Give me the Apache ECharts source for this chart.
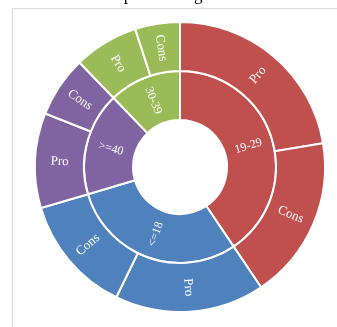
<!DOCTYPE html>
<html>
<head>
    <meta charset="utf-8">
    <title>sunburst</title>
    <style>
        html, body { margin: 0; padding: 0; background: #fff; }
        #chart { width: 337px; height: 327px; }
    </style>
</head>
<body>
    <div id="chart"></div>
    <script src="https://cdn.jsdelivr.net/npm/echarts@6/dist/echarts.min.js"></script>
    <script>
        // age groups (inner ring) and their colours
        var groups = ['19-29', '<=18', '>=40', '30-39'];
        var colors = ['#c0504d', '#4f81bd', '#8064a2', '#9bbb59'];
        // outer ring: Pro / Cons shares per group (percent)
        var stances = ['Pro', 'Cons'];
        var proVals  = [22.4, 16.7, 10.6, 7.2];
        var consVals = [18.2, 13.2, 6.8, 5.0];

        var data = [];
        for (var i = 0; i < groups.length; i++) {
            data.push({
                name: groups[i],
                itemStyle: { color: colors[i] },
                children: [
                    { name: stances[0], value: proVals[i], itemStyle: { color: colors[i] } },
                    { name: stances[1], value: consVals[i], itemStyle: { color: colors[i] } }
                ]
            });
        }

        var myChart = echarts.init(document.getElementById('chart'));
        var option = {
            animation: false,
            graphic: [
                {
                    type: 'text',
                    left: 0,
                    top: -13,
                    style: {
                        text: 'ed combo to each political figure',
                        font: '17px "Liberation Serif", serif',
                        fill: '#000'
                    }
                },
                {
                    type: 'polyline',
                    shape: { points: [[12.5, 340], [12.5, 8.5], [340, 8.5]] },
                    style: { stroke: '#d9d9d9', lineWidth: 1, fill: null }
                }
            ],
            series: [{
                type: 'sunburst',
                center: [180, 167],
                radius: [47, 145],
                startAngle: 90,
                sort: null,
                nodeClick: false,
                data: data,
                itemStyle: { borderColor: '#fff', borderWidth: 2 },
                label: {
                    color: '#fff',
                    fontFamily: '"Liberation Serif", serif',
                    fontSize: 13,
                    rotate: 'radial'
                },
                levels: [
                    {},
                    { r0: 47, r: 96, label: { fontSize: 12 } },
                    { r0: 96, r: 145 }
                ]
            }]
        };
        myChart.setOption(option);
    </script>
</body>
</html>
